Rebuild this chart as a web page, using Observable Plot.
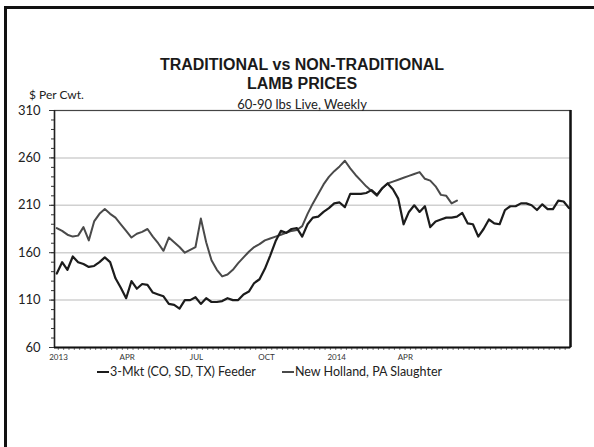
<!DOCTYPE html>
<html><head><meta charset="utf-8">
<script src="https://cdn.jsdelivr.net/npm/d3@7"></script>
<script src="https://cdn.jsdelivr.net/npm/@observablehq/plot@0.6"></script>
<style>
body{margin:0;background:#fff;}
#wrap{position:relative;width:594px;height:447px;overflow:hidden;font-family:Lato,sans-serif;color:#222;}
#border{position:absolute;left:4px;top:6px;width:620px;height:480px;border-left:3px solid #111;border-top:3px solid #111;}
.t{position:absolute;white-space:nowrap;}
#title{left:0;width:604px;text-align:center;top:55px;font-family:"Liberation Sans",Arial,sans-serif;font-weight:bold;font-size:16px;line-height:19px;color:#1a1a1a;}
#sub{left:0;width:604px;text-align:center;top:97px;font-size:13px;line-height:14px;color:#222;}
#unit{left:29px;top:87px;font-size:12px;color:#222;}
#legend{left:97px;top:365px;display:flex;gap:26px;font-size:12.5px;line-height:13px;}
#legend span.sw{display:inline-block;width:12px;height:0;border-top:2px solid #1e1e1e;vertical-align:middle;margin-right:1px;position:relative;top:-1px;}
#chart{position:absolute;left:0;top:0;}
</style></head><body>
<div id="wrap">
<div id="border"></div>
<div id="chart"></div>
<div class="t" id="title">TRADITIONAL vs NON-TRADITIONAL<br>LAMB PRICES</div>
<div class="t" id="sub">60-90 lbs Live, Weekly</div>
<div class="t" id="unit">$ Per Cwt.</div>
<div class="t" id="legend"></div>
</div>
<script>
const firstWeek = "2013-01-04";
const seriesNames = ["3-Mkt (CO, SD, TX) Feeder", "New Holland, PA Slaughter"];
const feeder = [138,150,142,156,150,148,145,146,150,155,150,133,123,112,130,122,127,126,118,116,
  114,106,105,101,110,110,113,106,112,108,108,109,112,110,110,116,119,128,132,143,
  157,172,183,181,185,186,177,190,197,198,203,207,212,213,208,222,222,222,223,226,
  221,228,233,227,217,190,203,210,203,209,187,193,195,197,197,198,202,191,190,177,
  185,195,191,190,205,209,209,212,212,210,205,211,206,206,215,214,207];
const slaughter = [186,183,179,177,178,187,173,193,201,206,201,197,190,183,176,180,182,185,177,170,
  162,176,171,166,160,163,166,196,171,152,142,135,137,142,149,155,161,166,169,173,
  175,177,179,181,183,184,188,201,212,222,232,240,246,251,257,249,242,236,230,225,
  220,228,233,235,237,239,241,243,245,238,236,230,221,220,212,215];
const yTicks = [60, 110, 160, 210, 260, 310];
const xTickDates = ["2013-01-01", "2013-04-01", "2013-07-01", "2013-10-01", "2014-01-01", "2014-04-01"];
const xTickLabels = ["2013", "APR", "JUL", "OCT", "2014", "APR"];
const xDomain = ["2013-01-01", "2014-11-09"];

const parse = s => new Date(s + "T00:00:00");
const start = parse(firstWeek);
const toRows = (vals, name) => vals.map((v, i) => ({date: d3.timeDay.offset(start, 7 * i), value: v, series: name}));
const feederRows = toRows(feeder, seriesNames[0]);
const slaughterRows = toRows(slaughter, seriesNames[1]);
const dom = xDomain.map(parse);
const labelMap = new Map(xTickDates.map((d, i) => [+parse(d), xTickLabels[i]]));
const weekTicks = d3.timeWeek.range(dom[0], dom[1]);
const minorY = d3.range(yTicks[0], yTicks[yTicks.length - 1] + 1, 10);

const plot = Plot.plot({
  width: 594, height: 447,
  marginLeft: 54, marginRight: 24, marginTop: 110, marginBottom: 100,
  style: {background: "transparent", overflow: "visible"},
  x: {type: "time", domain: dom},
  y: {domain: [yTicks[0], yTicks[yTicks.length - 1]]},
  marks: [
    Plot.ruleY(yTicks.slice(1, -1), {stroke: "#d0d0d0", strokeWidth: 1.5}),
    Plot.axisY({ticks: minorY, tickSize: 3, tickFormat: () => "", stroke: "#333", label: null}),
    Plot.axisY({ticks: yTicks, tickSize: 5, tickPadding: 9, fontSize: 13, fontFamily: "Lato", fill: "#222", stroke: "#333", label: null}),
    Plot.axisX({ticks: weekTicks, tickSize: 3, tickFormat: () => "", stroke: "#444", strokeOpacity: 0.7, label: null}),
    Plot.axisX({ticks: xTickDates.map(parse), tickSize: 0, tickPadding: 7, fontSize: 8, fontFamily: "Lato", fill: "#333", dx: 4, tickFormat: d => labelMap.get(+d), label: null}),
    Plot.line(slaughterRows, {x: "date", y: "value", stroke: "#4a4a4a", strokeWidth: 2}),
    Plot.line(feederRows, {x: "date", y: "value", stroke: "#1c1c1c", strokeWidth: 2.2}),
    Plot.frame({stroke: "#444", strokeWidth: 1.2}),
    Plot.ruleX([dom[1]], {stroke: "#111", strokeWidth: 2.5}),
    Plot.ruleX([dom[0]], {stroke: "#222", strokeWidth: 1.5}),
    Plot.ruleY([yTicks[0]], {stroke: "#111", strokeWidth: 2.2})
  ]
});
document.getElementById("chart").appendChild(plot);

const legend = document.getElementById("legend");
const colors = ["#1c1c1c", "#4a4a4a"];
seriesNames.forEach((n, i) => {
  const item = document.createElement("div");
  item.innerHTML = `<span class="sw" style="border-top-color:${colors[i]}"></span>${n}`;
  legend.appendChild(item);
});
</script>
</body></html>
